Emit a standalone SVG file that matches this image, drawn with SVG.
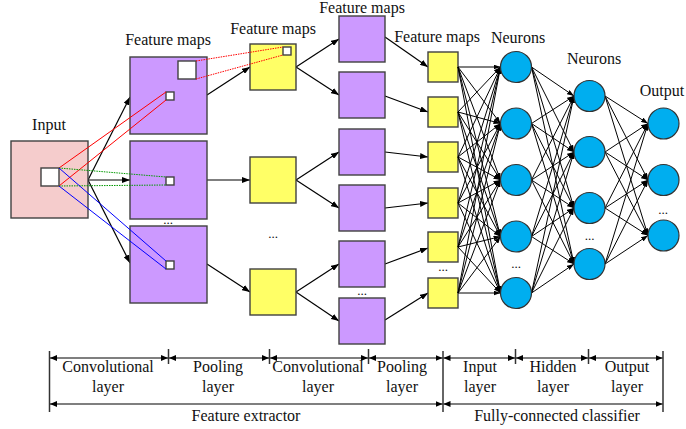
<svg xmlns="http://www.w3.org/2000/svg" width="686" height="429" viewBox="0 0 686 429">
<style>
text{font-family:"Liberation Serif","Times New Roman",serif;font-size:16px;fill:#111;text-anchor:middle}
.dots{font-size:13px}
.in{fill:#F5CCCC;stroke:#404040;stroke-width:1.4}
.pu{fill:#CC99FF;stroke:#404040;stroke-width:1.4}
.ye{fill:#FFFF66;stroke:#404040;stroke-width:1.4}
.wh{fill:#fff;stroke:#404040;stroke-width:1.4}
.ne{fill:#00AEEF;stroke:#333;stroke-width:1.2}
.a{stroke:#000;stroke-width:1.2;fill:none;marker-end:url(#ah)}
.n{stroke:#000;stroke-width:1;fill:none;marker-end:url(#as)}
.dim{stroke:#000;stroke-width:1.2;fill:none;marker-start:url(#ad);marker-end:url(#ad)}
.v{stroke:#333;stroke-width:1.5}
</style>
<defs>
<marker id="ah" markerUnits="userSpaceOnUse" markerWidth="8" markerHeight="6" refX="8" refY="3" orient="auto"><path d="M0,0 L8,3 L0,6 z" fill="#000"/></marker>
<marker id="as" markerUnits="userSpaceOnUse" markerWidth="7" markerHeight="5" refX="7" refY="2.5" orient="auto"><path d="M0,0 L7,2.5 L0,5 z" fill="#000"/></marker>
<marker id="ad" markerUnits="userSpaceOnUse" markerWidth="7" markerHeight="6" refX="7" refY="3" orient="auto-start-reverse"><path d="M0,0 L7,3 L0,6 z" fill="#000"/></marker>
</defs>

<g id="connectors">
<line class="a" x1="88" y1="180" x2="130" y2="97"/>
<line class="a" x1="88" y1="180" x2="130" y2="180"/>
<line class="a" x1="88" y1="180" x2="130" y2="263"/>
<line class="a" x1="207" y1="95" x2="250" y2="67"/>
<line class="a" x1="207" y1="180" x2="250" y2="180"/>
<line class="a" x1="207" y1="264" x2="250" y2="292"/>
<line class="a" x1="296" y1="67" x2="339" y2="39"/>
<line class="a" x1="296" y1="67" x2="339" y2="95"/>
<line class="a" x1="296" y1="180" x2="339" y2="152"/>
<line class="a" x1="296" y1="180" x2="339" y2="208"/>
<line class="a" x1="296" y1="292" x2="339" y2="264"/>
<line class="a" x1="296" y1="292" x2="339" y2="321"/>
<line class="a" x1="385" y1="37" x2="428" y2="67"/>
<line class="a" x1="385" y1="96" x2="428" y2="112"/>
<line class="a" x1="385" y1="152" x2="428" y2="157"/>
<line class="a" x1="385" y1="208" x2="428" y2="203"/>
<line class="a" x1="385" y1="264" x2="428" y2="248"/>
<line class="a" x1="385" y1="320" x2="428" y2="293"/>
</g>

<g id="input">
<rect class="in" x="11" y="141" width="77" height="77"/>
<rect class="wh" x="41" y="168" width="18" height="18"/>
<text x="49" y="130">Input</text>
</g>

<g id="conv1">
<rect class="pu" x="130" y="57" width="77" height="77"/>
<rect class="wh" x="178" y="61" width="18" height="18"/>
<rect class="wh" x="166" y="92" width="8" height="8"/>
<rect class="pu" x="130" y="141" width="77" height="78"/>
<rect class="wh" x="166" y="177" width="8" height="8"/>
<rect class="pu" x="130" y="226" width="77" height="77"/>
<rect class="wh" x="166" y="261" width="8" height="8"/>
<text x="168" y="45">Feature maps</text>
<text class="dots" x="168" y="224">...</text>
</g>

<g id="pool1">
<rect class="ye" x="250" y="44" width="46" height="46"/>
<rect class="wh" x="283" y="47" width="8" height="8"/>
<rect class="ye" x="250" y="157" width="46" height="46"/>
<rect class="ye" x="250" y="269" width="46" height="46"/>
<text x="273" y="34">Feature maps</text>
<text class="dots" x="273" y="238">...</text>
</g>

<g id="receptive-lines" fill="none" stroke-width="1">
<line stroke="#FF0000" x1="59" y1="168" x2="166" y2="92"/>
<line stroke="#FF0000" x1="59" y1="186" x2="166" y2="100"/>
<line stroke="#009900" stroke-dasharray="1.5,1" x1="59" y1="168" x2="166" y2="177"/>
<line stroke="#009900" stroke-dasharray="1.5,1" x1="59" y1="186" x2="166" y2="185"/>
<line stroke="#0000FF" x1="59" y1="168" x2="166" y2="261"/>
<line stroke="#0000FF" x1="59" y1="186" x2="166" y2="269"/>
<line stroke="#FF0000" stroke-dasharray="1.5,1" x1="196" y1="61" x2="283" y2="47"/>
<line stroke="#FF0000" stroke-dasharray="1.5,1" x1="196" y1="79" x2="283" y2="55"/>
</g>

<g id="conv2">
<rect class="pu" x="339" y="16" width="46" height="46"/>
<rect class="pu" x="339" y="72" width="46" height="46"/>
<rect class="pu" x="339" y="129" width="46" height="46"/>
<rect class="pu" x="339" y="185" width="46" height="46"/>
<rect class="pu" x="339" y="241" width="46" height="46"/>
<rect class="pu" x="339" y="298" width="46" height="46"/>
<text x="362" y="12.5">Feature maps</text>
<text class="dots" x="362" y="295">...</text>
</g>

<g id="pool2">
<rect class="ye" x="428" y="52" width="30" height="30"/>
<rect class="ye" x="428" y="97" width="30" height="30"/>
<rect class="ye" x="428" y="142" width="30" height="30"/>
<rect class="ye" x="428" y="188" width="30" height="30"/>
<rect class="ye" x="428" y="232" width="30" height="30"/>
<rect class="ye" x="428" y="278" width="30" height="30"/>
<text x="437" y="42">Feature maps</text>
<text class="dots" x="443" y="271">...</text>
</g>

<g id="fc-connectors">
<line class="n" x1="458" y1="67" x2="500.5" y2="67"/><line class="n" x1="458" y1="67" x2="500.5" y2="123.5"/><line class="n" x1="458" y1="67" x2="500.5" y2="180"/><line class="n" x1="458" y1="67" x2="500.5" y2="236.5"/><line class="n" x1="458" y1="67" x2="500.5" y2="293"/>
<line class="n" x1="458" y1="112" x2="500.5" y2="67"/><line class="n" x1="458" y1="112" x2="500.5" y2="123.5"/><line class="n" x1="458" y1="112" x2="500.5" y2="180"/><line class="n" x1="458" y1="112" x2="500.5" y2="236.5"/><line class="n" x1="458" y1="112" x2="500.5" y2="293"/>
<line class="n" x1="458" y1="157" x2="500.5" y2="67"/><line class="n" x1="458" y1="157" x2="500.5" y2="123.5"/><line class="n" x1="458" y1="157" x2="500.5" y2="180"/><line class="n" x1="458" y1="157" x2="500.5" y2="236.5"/><line class="n" x1="458" y1="157" x2="500.5" y2="293"/>
<line class="n" x1="458" y1="203" x2="500.5" y2="67"/><line class="n" x1="458" y1="203" x2="500.5" y2="123.5"/><line class="n" x1="458" y1="203" x2="500.5" y2="180"/><line class="n" x1="458" y1="203" x2="500.5" y2="236.5"/><line class="n" x1="458" y1="203" x2="500.5" y2="293"/>
<line class="n" x1="458" y1="247" x2="500.5" y2="67"/><line class="n" x1="458" y1="247" x2="500.5" y2="123.5"/><line class="n" x1="458" y1="247" x2="500.5" y2="180"/><line class="n" x1="458" y1="247" x2="500.5" y2="236.5"/><line class="n" x1="458" y1="247" x2="500.5" y2="293"/>
<line class="n" x1="458" y1="293" x2="500.5" y2="67"/><line class="n" x1="458" y1="293" x2="500.5" y2="123.5"/><line class="n" x1="458" y1="293" x2="500.5" y2="180"/><line class="n" x1="458" y1="293" x2="500.5" y2="236.5"/><line class="n" x1="458" y1="293" x2="500.5" y2="293"/>

<line class="n" x1="531.5" y1="67" x2="574" y2="96"/><line class="n" x1="531.5" y1="67" x2="574" y2="152"/><line class="n" x1="531.5" y1="67" x2="574" y2="208"/><line class="n" x1="531.5" y1="67" x2="574" y2="264"/>
<line class="n" x1="531.5" y1="123.5" x2="574" y2="96"/><line class="n" x1="531.5" y1="123.5" x2="574" y2="152"/><line class="n" x1="531.5" y1="123.5" x2="574" y2="208"/><line class="n" x1="531.5" y1="123.5" x2="574" y2="264"/>
<line class="n" x1="531.5" y1="180" x2="574" y2="96"/><line class="n" x1="531.5" y1="180" x2="574" y2="152"/><line class="n" x1="531.5" y1="180" x2="574" y2="208"/><line class="n" x1="531.5" y1="180" x2="574" y2="264"/>
<line class="n" x1="531.5" y1="236.5" x2="574" y2="96"/><line class="n" x1="531.5" y1="236.5" x2="574" y2="152"/><line class="n" x1="531.5" y1="236.5" x2="574" y2="208"/><line class="n" x1="531.5" y1="236.5" x2="574" y2="264"/>
<line class="n" x1="531.5" y1="293" x2="574" y2="96"/><line class="n" x1="531.5" y1="293" x2="574" y2="152"/><line class="n" x1="531.5" y1="293" x2="574" y2="208"/><line class="n" x1="531.5" y1="293" x2="574" y2="264"/>

<line class="n" x1="605" y1="96" x2="648" y2="123.5"/><line class="n" x1="605" y1="96" x2="648" y2="180"/><line class="n" x1="605" y1="96" x2="648" y2="235.5"/>
<line class="n" x1="605" y1="152" x2="648" y2="123.5"/><line class="n" x1="605" y1="152" x2="648" y2="180"/><line class="n" x1="605" y1="152" x2="648" y2="235.5"/>
<line class="n" x1="605" y1="208" x2="648" y2="123.5"/><line class="n" x1="605" y1="208" x2="648" y2="180"/><line class="n" x1="605" y1="208" x2="648" y2="235.5"/>
<line class="n" x1="605" y1="264" x2="648" y2="123.5"/><line class="n" x1="605" y1="264" x2="648" y2="180"/><line class="n" x1="605" y1="264" x2="648" y2="235.5"/>
</g>

<g id="neurons1">
<circle class="ne" cx="516" cy="67" r="15.5"/>
<circle class="ne" cx="516" cy="123.5" r="15.5"/>
<circle class="ne" cx="516" cy="180" r="15.5"/>
<circle class="ne" cx="516" cy="236.5" r="15.5"/>
<circle class="ne" cx="516" cy="293" r="15.5"/>
<text x="518" y="43">Neurons</text>
<text class="dots" x="516" y="268">...</text>
</g>

<g id="neurons2">
<circle class="ne" cx="589.5" cy="96" r="15.5"/>
<circle class="ne" cx="589.5" cy="152" r="15.5"/>
<circle class="ne" cx="589.5" cy="208" r="15.5"/>
<circle class="ne" cx="589.5" cy="264" r="15.5"/>
<text x="594" y="64">Neurons</text>
<text class="dots" x="589.5" y="240">...</text>
</g>

<g id="output">
<circle class="ne" cx="663.5" cy="123.5" r="15.5"/>
<circle class="ne" cx="663.5" cy="180" r="15.5"/>
<circle class="ne" cx="663.5" cy="235.5" r="15.5"/>
<text x="662" y="96">Output</text>
<text class="dots" x="663" y="214">...</text>
</g>

<g id="dimensions">
<line class="v" x1="49.5" y1="351" x2="49.5" y2="412"/>
<line class="v" x1="443" y1="351" x2="443" y2="412"/>
<line class="v" x1="663" y1="351" x2="663" y2="412"/>
<line class="v" x1="168.5" y1="349" x2="168.5" y2="364" stroke-width="1"/>
<line class="v" x1="269.5" y1="349" x2="269.5" y2="364" stroke-width="1"/>
<line class="v" x1="368.5" y1="349" x2="368.5" y2="364" stroke-width="1"/>
<line class="v" x1="515.5" y1="349" x2="515.5" y2="364" stroke-width="1"/>
<line class="v" x1="588.5" y1="349" x2="588.5" y2="364" stroke-width="1"/>
<line class="dim" x1="50" y1="358" x2="168" y2="358"/>
<line class="dim" x1="169" y1="358" x2="269" y2="358"/>
<line class="dim" x1="270" y1="358" x2="368" y2="358"/>
<line class="dim" x1="369" y1="358" x2="442.5" y2="358"/>
<line class="dim" x1="443.5" y1="358" x2="515" y2="358"/>
<line class="dim" x1="516" y1="358" x2="588" y2="358"/>
<line class="dim" x1="589" y1="358" x2="662.5" y2="358"/>
<line class="dim" x1="50" y1="404" x2="442.5" y2="404"/>
<line class="dim" x1="443.5" y1="404" x2="662.5" y2="404"/>
<text x="108" y="372">Convolutional</text>
<text x="108" y="392">layer</text>
<text x="218" y="372">Pooling</text>
<text x="218" y="392">layer</text>
<text x="318" y="372">Convolutional</text>
<text x="318" y="392">layer</text>
<text x="402" y="372">Pooling</text>
<text x="402" y="392">layer</text>
<text x="480" y="372">Input</text>
<text x="480" y="392">layer</text>
<text x="553" y="372">Hidden</text>
<text x="553" y="392">layer</text>
<text x="627" y="372">Output</text>
<text x="627" y="392">layer</text>
<text x="246" y="421">Feature extractor</text>
<text x="557" y="421">Fully-connected classifier</text>
</g>
</svg>
